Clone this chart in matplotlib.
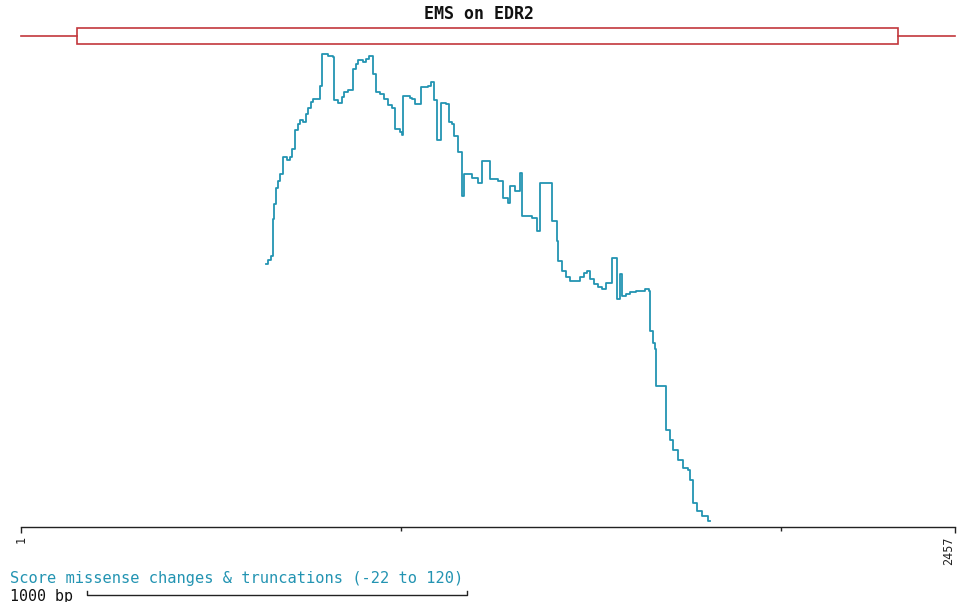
import matplotlib
matplotlib.use("Agg")
import matplotlib.pyplot as plt
from matplotlib.patches import Rectangle
from matplotlib.transforms import blended_transform_factory

# ---------------- data ----------------
title = "EMS on EDR2"
seq_start, seq_end = 1, 2457
gene_box = (148, 2307)
score_min, score_max = -22, 120
ruler_labels = [1, 2457]
ruler_minor = [1000, 2000]
scale_bar_bp = 1000
scale_bar_start = 175
legend_text = "Score missense changes & truncations (-22 to 120)"

pos = [645, 650, 658, 664, 666, 672, 677, 682, 690, 700, 708, 714, 722, 729, 735,
       743, 750, 756, 764, 769, 782, 787, 793, 808, 821, 824, 835, 845, 850, 861,
       874, 882, 887, 900, 908, 916, 927, 935, 945, 956, 966, 977, 984, 998, 1003,
       1006, 1024, 1029, 1037, 1053, 1071, 1079, 1087, 1095, 1105, 1119, 1126, 1134,
       1140, 1150, 1161, 1166, 1187, 1203, 1213, 1234, 1255, 1268, 1282, 1287, 1300,
       1313, 1318, 1345, 1358, 1366, 1397, 1410, 1413, 1424, 1434, 1445, 1471, 1481,
       1489, 1497, 1508, 1518, 1529, 1539, 1555, 1568, 1576, 1581, 1592, 1602, 1618,
       1631, 1642, 1652, 1655, 1663, 1668, 1671, 1697, 1708, 1716, 1729, 1742, 1755,
       1760, 1768, 1779, 1792, 1808, 1812]
score = [55.9, 57.1, 58.3, 69.5, 74.0, 78.8, 80.9, 83.0, 88.4, 87.5, 88.4, 90.8, 96.5,
         98.3, 99.5, 98.9, 101.3, 103.2, 105.0, 105.9, 105.9, 109.8, 119.4, 118.8,
         118.5, 105.6, 104.7, 106.5, 108.0, 108.6, 114.9, 116.4, 117.6, 117.0, 117.9,
         118.8, 113.4, 108.0, 107.4, 105.9, 104.1, 103.2, 96.8, 95.9, 95.0, 106.8,
         106.2, 105.9, 104.4, 109.5, 109.8, 111.0, 105.6, 93.5, 104.7, 104.4, 98.9,
         98.3, 94.7, 89.9, 76.4, 83.0, 81.8, 80.3, 87.2, 81.5, 80.9, 75.8, 74.3, 79.4,
         77.9, 83.3, 70.4, 69.8, 65.8, 80.3, 68.9, 62.8, 56.8, 53.8, 52.0, 50.8, 52.0,
         53.2, 53.8, 51.4, 49.9, 49.0, 48.4, 50.2, 57.7, 45.4, 52.9, 46.3, 46.9, 47.5,
         47.8, 47.8, 48.4, 47.8, 35.8, 32.2, 30.3, 19.2, 5.7, 2.7, -0.3, -3.3, -5.8,
         -6.4, -9.4, -16.3, -18.7, -20.2, -21.7, -21.7]

# ---------------- style ----------------
W, H = 959, 602
teal = "#2394b2"
red = "#c2373c"
mono = ["DejaVu Sans Mono"]

fig = plt.figure(figsize=(W / 100, H / 100), dpi=100)
fig.patch.set_facecolor("white")

def fx(px):
    return px / W

def fy(py):
    return 1 - py / H

# main score axes: x 1..2457 -> px 21..955, score -22..120 -> py 522..52
ax = fig.add_axes([fx(21), fy(522), (955 - 21) / W, (522 - 52) / H])
ax.set_xlim(seq_start, seq_end)
ax.set_ylim(score_min, score_max)
ax.patch.set_alpha(0)
for s in ["top", "left", "right"]:
    ax.spines[s].set_visible(False)
ax.spines["bottom"].set_position(("outward", 3.6))
ax.spines["bottom"].set_linewidth(1.0)
ax.spines["bottom"].set_color("#222222")
ax.set_yticks([])
ax.set_xticks(ruler_labels)
labels = ax.set_xticklabels([str(v) for v in ruler_labels], rotation=90,
                            family=mono, fontsize=8.5, color="#222222")
labels[-1].set_horizontalalignment("right")
ax.set_xticks(ruler_minor, minor=True)
ax.tick_params(axis="x", which="major", direction="out", length=4.5, width=1.0,
               color="#222222", pad=2)
ax.tick_params(axis="x", which="minor", direction="out", length=3, width=1.0,
               color="#222222")

ax.step(pos, score, where="post", color=teal, lw=1.3, clip_on=False)

# gene track
gax = fig.add_axes([fx(21), fy(46), (955 - 21) / W, 20 / H])
gax.set_xlim(seq_start, seq_end)
gax.set_ylim(-1, 1)
gax.axis("off")
gax.plot([seq_start, gene_box[0]], [0, 0], color=red, lw=1.2, clip_on=False)
gax.plot([gene_box[1], seq_end], [0, 0], color=red, lw=1.2, clip_on=False)
gax.add_patch(Rectangle((gene_box[0], -0.8), gene_box[1] - gene_box[0], 1.6,
                        fill=False, edgecolor=red, lw=1.2))

# title
fig.text(fx(479), fy(14), title, ha="center", va="center", family=mono,
         fontweight="bold", fontsize=12, color="#111111")

# legend text
fig.text(fx(10), fy(578), legend_text, ha="left", va="center", family=mono,
         fontsize=11.1, color=teal)

# scale bar
fig.text(fx(10), fy(596), "1000 bp", ha="left", va="center", family=mono,
         fontsize=10.8, color="#111111")
tr = blended_transform_factory(ax.transData, fig.transFigure)
x0, x1 = scale_bar_start, scale_bar_start + scale_bar_bp
ax.plot([x0, x0, x1, x1], [fy(591), fy(595), fy(595), fy(591)], transform=tr,
        color="#222222", lw=1.0, clip_on=False)

fig.savefig("out.png", dpi=100, facecolor="white")
